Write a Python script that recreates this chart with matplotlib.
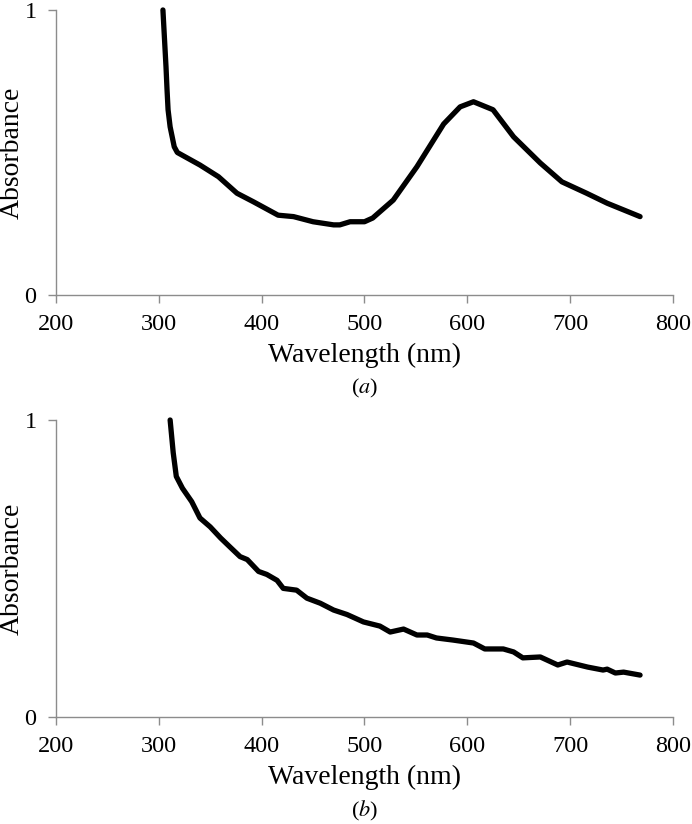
import matplotlib.pyplot as plt

plt.rcParams['font.family'] = ['Liberation Serif', 'DejaVu Serif']
plt.rcParams['mathtext.fontset'] = 'stix'

# (a) spectrum
wl_a = [304, 305.5, 307, 308, 309, 311, 313, 315, 318, 340, 358, 376, 392, 416, 431, 450,
        470, 476, 486, 500, 508, 528, 551, 577, 593, 606, 625, 645, 671, 692, 716, 736, 768]
abs_a = [1.0, 0.90, 0.80, 0.72, 0.65, 0.59, 0.555, 0.52, 0.50, 0.456, 0.415, 0.357, 0.327,
         0.28, 0.275, 0.257, 0.246, 0.246, 0.257, 0.257, 0.27, 0.333, 0.45, 0.60, 0.66,
         0.678, 0.65, 0.555, 0.463, 0.397, 0.357, 0.322, 0.275]

# (b) spectrum
wl_b = [311, 314, 317, 323, 332, 340, 350, 360, 369, 379, 386, 397, 405, 415, 421, 434,
        444, 457, 470, 483, 499, 515, 525, 538, 551, 561, 570, 586, 606, 617, 635, 645,
        654, 671, 688, 697, 717, 732, 736, 744, 752, 768]
abs_b = [1.0, 0.89, 0.81, 0.77, 0.725, 0.67, 0.64, 0.603, 0.573, 0.54, 0.53, 0.49, 0.48,
         0.46, 0.433, 0.427, 0.40, 0.383, 0.36, 0.345, 0.32, 0.306, 0.286, 0.296, 0.276,
         0.276, 0.266, 0.259, 0.249, 0.229, 0.229, 0.219, 0.199, 0.202, 0.175, 0.185,
         0.168, 0.158, 0.161, 0.148, 0.151, 0.141]

panels = [(wl_a, abs_a, 'a', -0.327), (wl_b, abs_b, 'b', -0.316)]
xticks = [200, 300, 400, 500, 600, 700, 800]
yticks = [0, 1]

fig = plt.figure(figsize=(6.92, 8.24), dpi=100)
ax_a = fig.add_axes([0.0809, 0.642, 0.8916, 0.3459])
ax_b = fig.add_axes([0.0809, 0.1299, 0.8916, 0.3604])

for ax, (x, y, letter, ypos) in zip([ax_a, ax_b], panels):
    ax.plot(x, y, color='black', lw=3.8, solid_capstyle='round', solid_joinstyle='round',
            clip_on=False)
    ax.set_xlim(200, 800)
    ax.set_ylim(0, 1)
    ax.set_xticks(xticks)
    ax.set_yticks(yticks)
    for s in ['top', 'right']:
        ax.spines[s].set_visible(False)
    for s in ['left', 'bottom']:
        ax.spines[s].set_color('#8c8c8c')
        ax.spines[s].set_linewidth(1.0)
    ax.tick_params(direction='out', length=6, width=1.0, color='#8c8c8c', labelsize=17.5)
    ax.tick_params(axis='y', pad=8)
    ax.tick_params(axis='x', pad=8)
    ax.set_xlabel('Wavelength (nm)', fontsize=20, labelpad=5)
    ax.set_ylabel('Absorbance', fontsize=20)
    ax.yaxis.set_label_coords(-0.050, 0.5)
    ax.text(0.5, ypos, '(' + r'$\mathit{' + letter + '}$' + ')', transform=ax.transAxes,
            ha='center', va='center', fontsize=16)

fig.savefig('out.png', dpi=100)
